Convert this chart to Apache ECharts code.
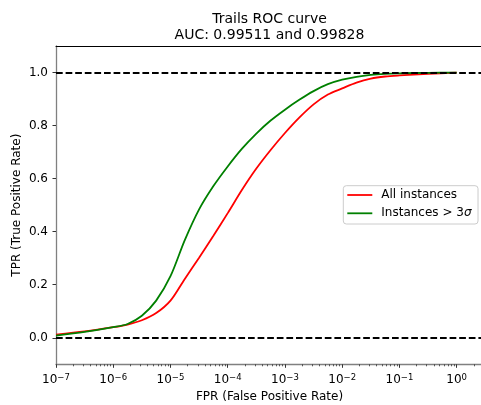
<!DOCTYPE html>
<html>
<head>
<meta charset="utf-8">
<script src="https://cdn.jsdelivr.net/npm/echarts@6/dist/echarts.min.js"></script>
<style>html,body{margin:0;padding:0;background:#fff;}#c{width:481px;height:405px;}</style>
</head>
<body>
<div id="c"></div>
<script>
// log10(FPR) sample positions
const logFpr = [-7, -6.5, -6, -5.75, -5.5, -5.25, -5, -4.75, -4.5, -4.25, -4, -3.75, -3.5, -3.25, -3, -2.75, -2.5, -2.25, -2, -1.75, -1.5, -1.25, -1, -0.5, 0];
const tprAll = [0.012, 0.024, 0.040, 0.050, 0.066, 0.093, 0.140, 0.222, 0.302, 0.385, 0.470, 0.558, 0.638, 0.708, 0.772, 0.830, 0.880, 0.917, 0.940, 0.962, 0.977, 0.985, 0.989, 0.995, 1.0];
const tprSigma = [0.008, 0.022, 0.040, 0.052, 0.083, 0.140, 0.232, 0.368, 0.484, 0.572, 0.646, 0.713, 0.770, 0.819, 0.860, 0.897, 0.930, 0.956, 0.973, 0.984, 0.991, 0.995, 0.997, 0.999, 1.0];
const xMajorExp = [-7, -6, -5, -4, -3, -2, -1, 0];
const yTicks = [0, 0.2, 0.4, 0.6, 0.8, 1.0];
const refLines = [1.0, 0.0];
const seriesNames = ['All instances', 'Instances > 3σ'];

const X_MIN = -7, X_MAX = 0.46;
const xMinor = [];
for (const e of xMajorExp) {
  for (let k = 2; k <= 9; k++) {
    const v = e + Math.log10(k);
    if (v <= X_MAX) xMinor.push(v);
  }
}
const FONT = 'DejaVu Sans';
const gridRect = { left: 56, top: 46, right: -2, bottom: 40.7, containLabel: false, outerBoundsMode: 'none' };

const chart = echarts.init(document.getElementById('c'), null, { renderer: 'canvas' });
chart.setOption({
  animation: false,
  backgroundColor: '#fff',
  textStyle: { fontFamily: FONT },
  title: {
    text: 'Trails ROC curve\nAUC: 0.99511 and 0.99828',
    left: 269.5, top: 11, padding: 0, textAlign: 'center',
    textStyle: { fontSize: 14, fontWeight: 'normal', color: '#000', lineHeight: 16, fontFamily: FONT }
  },
  legend: {
    data: seriesNames,
    orient: 'vertical', left: 343.3, top: 185.7,
    padding: [3.3, 6.5, 4.7, 4],
    icon: 'rect',
    itemWidth: 25, itemHeight: 1.8, itemGap: 6.3,
    borderColor: '#cccccc', borderWidth: 1, borderRadius: 3,
    backgroundColor: 'rgba(255,255,255,0.8)',
    formatter: n => n.replace('σ', '{i|σ}'),
    textStyle: { fontSize: 12, color: '#000', fontFamily: FONT, padding: [0, 0, 0, 4],
      rich: { i: { fontSize: 12, fontStyle: 'italic', color: '#000', fontFamily: FONT } } }
  },
  grid: [
    Object.assign({}, gridRect),
    Object.assign({}, gridRect)
  ],
  xAxis: [
    {
      type: 'value', gridIndex: 0, position: 'bottom', min: X_MIN, max: X_MAX,
      splitLine: { show: false },
      axisLine: { show: true, onZero: false, lineStyle: { color: '#808080', width: 1.3 } },
      axisTick: { show: true, customValues: xMajorExp, length: 3.5, lineStyle: { color: '#333', width: 1 } },
      axisLabel: {
        customValues: xMajorExp, margin: 8.5, color: '#000',
        formatter: v => '{b|10}{s|' + (v < 0 ? '\u2212' + Math.abs(Math.round(v)) : Math.round(v)) + '}',
        rich: {
          b: { fontSize: 12, lineHeight: 14, color: '#000', fontFamily: FONT },
          s: { fontSize: 8.5, lineHeight: 8, verticalAlign: 'top', color: '#000', fontFamily: FONT }
        }
      },
      name: 'FPR (False Positive Rate)', nameLocation: 'middle', nameGap: 26.5, nameMoveOverlap: false,
      nameTextStyle: { fontSize: 12, color: '#000', fontFamily: FONT }
    },
    {
      type: 'value', gridIndex: 0, position: 'top', min: X_MIN, max: X_MAX,
      splitLine: { show: false },
      axisLine: { show: true, onZero: false, lineStyle: { color: '#000', width: 1 } },
      axisTick: { show: false }, axisLabel: { show: false }
    },
    {
      type: 'value', gridIndex: 1, position: 'bottom', min: X_MIN, max: X_MAX,
      splitLine: { show: false },
      axisLine: { show: false, onZero: false },
      axisTick: { show: true, customValues: xMinor, length: 2, lineStyle: { color: '#333', width: 0.8 } },
      axisLabel: { show: false }
    }
  ],
  yAxis: [
    {
      type: 'value', gridIndex: 0, position: 'left', min: -0.1, max: 1.1,
      splitLine: { show: false },
      axisLine: { show: true, onZero: false, lineStyle: { color: '#808080', width: 1.3 } },
      axisTick: { show: true, customValues: yTicks, length: 3.5, lineStyle: { color: '#333', width: 1 } },
      axisLabel: { customValues: yTicks, margin: 8, fontSize: 12, color: '#000', fontFamily: FONT, formatter: v => v.toFixed(1) },
      name: 'TPR (True Positive Rate)', nameLocation: 'middle', nameGap: 33, nameMoveOverlap: false,
      nameTextStyle: { fontSize: 12, color: '#000', fontFamily: FONT }
    },
    {
      type: 'value', gridIndex: 1, position: 'left', min: -0.1, max: 1.1,
      axisLine: { show: false, onZero: false }, axisTick: { show: false },
      axisLabel: { show: false }, splitLine: { show: false }
    }
  ],
  series: [
    {
      type: 'line', name: 'ref', xAxisIndex: 0, yAxisIndex: 0, data: [], z: 1,
      markLine: {
        silent: true, symbol: 'none', animation: false,
        label: { show: false },
        lineStyle: { color: '#000', width: 1.8, type: [6.7, 2.9] },
        data: refLines.map(v => ({ yAxis: v }))
      }
    },
    {
      type: 'line', name: seriesNames[0], xAxisIndex: 0, yAxisIndex: 0, z: 3,
      data: logFpr.map((l, i) => [l, tprAll[i]]),
      symbol: 'none', smooth: 0.3, color: '#ff0000',
      lineStyle: { color: '#ff0000', width: 1.8 }
    },
    {
      type: 'line', name: seriesNames[1], xAxisIndex: 0, yAxisIndex: 0, z: 4,
      data: logFpr.map((l, i) => [l, tprSigma[i]]),
      symbol: 'none', smooth: 0.3, color: '#008000',
      lineStyle: { color: '#008000', width: 1.8 }
    }
  ]
});
</script>
</body>
</html>
